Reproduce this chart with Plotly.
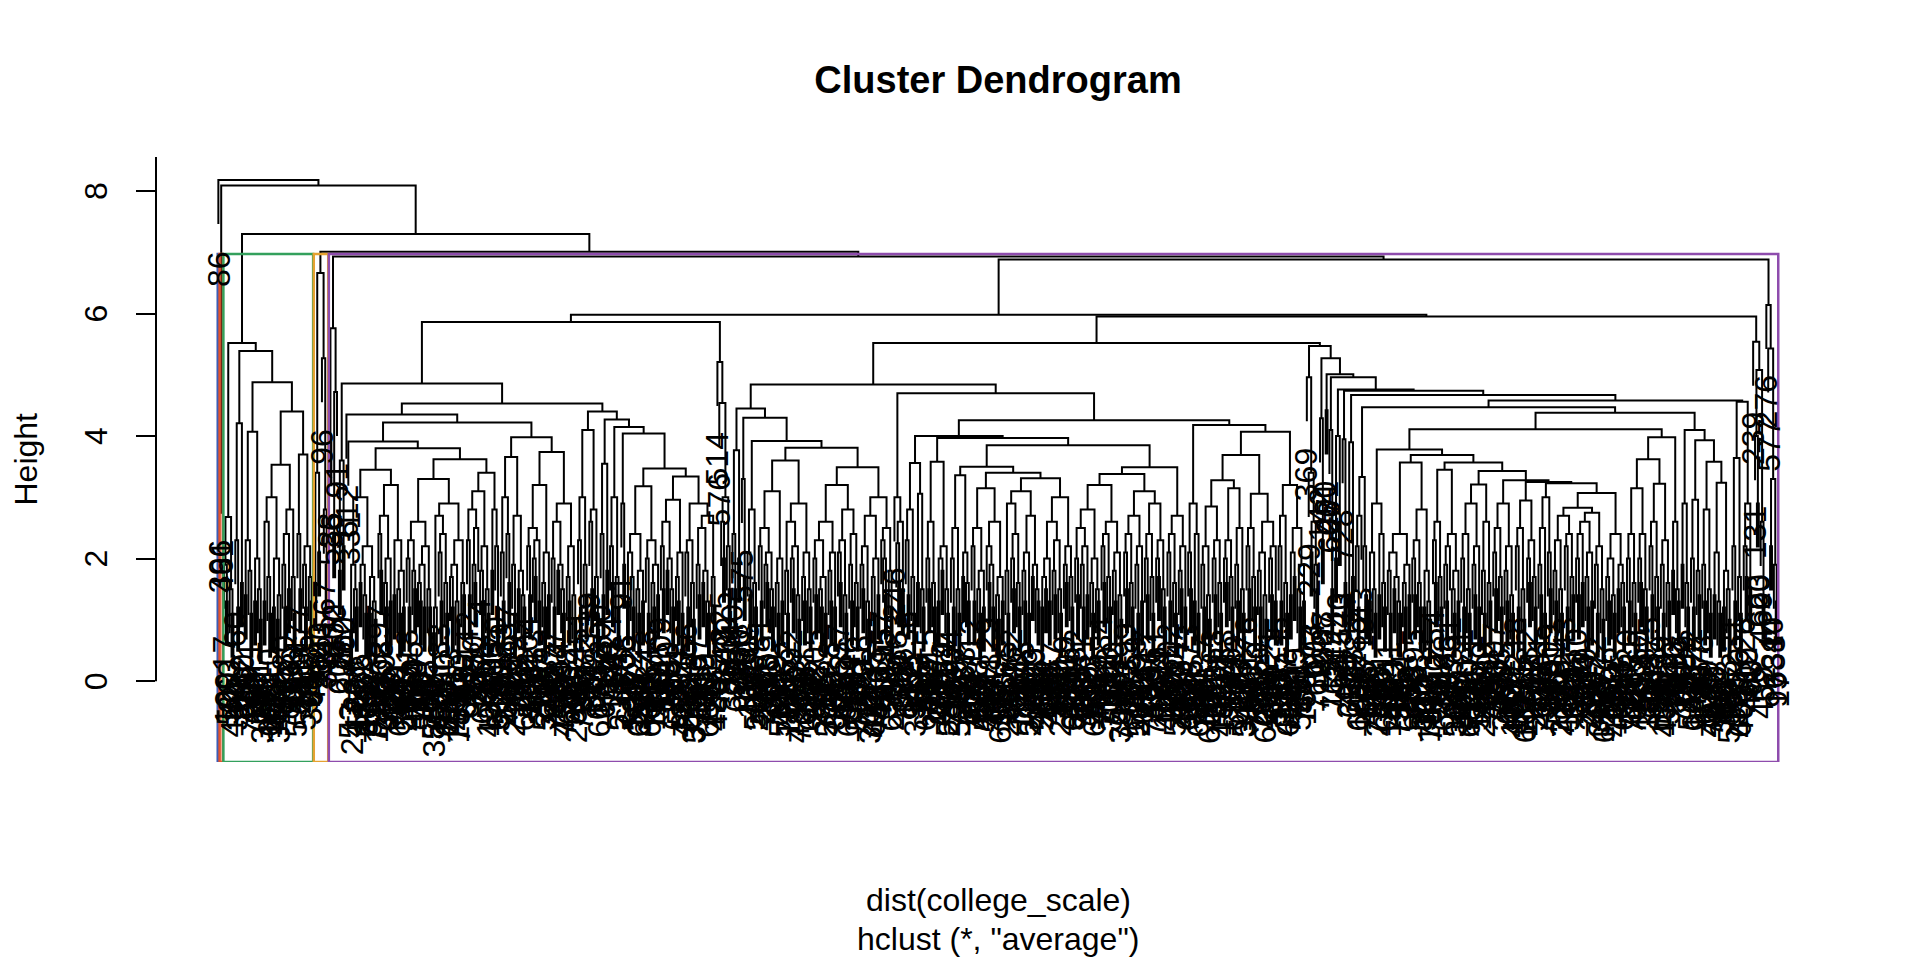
import plotly.graph_objects as go

# --- tree, as nested "(left,right)height" strings ---
L1 = "86"
RED = "(396,461)3.45"
G_L = "((17,(109,520)1.3)1.9,(263,(441,52)1.1)1.5)2.68"
G_RL = "((60,(327,94)1.2)2.3,(62,140)1.6)4.21"
G_RRL = "(((216,19)1.4,(371,(90,723)1.1)1.8)2.3,((198,660)1.3,(401,(5,377)1.0)1.5)2.0)4.07"
G_A = "((((245,171)1.3,(10,(682,150)1.1)1.7)2.6,((158,431)1.2,((66,317)1.0,705)1.4)2.0)3.0,(((280,(59,713)1.2)1.9,(463,126)1.5)2.4,(336,(70,598)1.1)1.7)2.8)3.53"
G_B = "((477,(213,701)1.5)2.4,((106,(547,33)1.2)1.9,(218,(394,65)1.3)1.7)2.2)3.7"
GREEN = f"({G_L},({G_RL},({G_RRL},({G_A},{G_B})4.40)4.88)5.39)5.52"
ORANGE = "(((415,28)1.6,(183,640)2.1)3.4,(96,(567,(331,712)1.9)2.8)5.27)6.66"
P_LEFT = "((588,36)3.9,((202,670)2.4,91)4.72)5.76"
F1_LEFT = "((607,275)1.8,(652,700)2.2)3.6"

N365A = ("((((53,247)0.8,(638,(126,579)1.2)1.5)1.9,(((556,33)1.6,(219,(670,301)1.1)1.4)1.9,((412,559)1.1,(84,(728,195)1.0)1.3)1.7)2.2)3.0,"
         "(((297,(653,208)1.8)2.4,((139,(455,692)1.2)1.6,(23,487)1.3)2.0)2.7,((719,380)1.4,((261,(610,42)1.1)1.5,(349,580)1.2)1.8)2.3)3.2)3.45")
X1 = "(((318,(72,491)1.2)2.0,(705,(264,149)1.5)1.8)2.3,(((407,(196,743)1.3)1.6,(29,558)1.2)1.9,(365,(701,8)1.2)1.5)2.2)2.6"
X2 = "((((55,388)0.78,616)1.2,((183,(529,47)1.3)2.1,(250,(674,137)1.1)1.6)2.4)2.7,(((13,(447,262)1.2)1.7,(590,(185,734)1.0)1.3)1.9,(320,(48,655)1.4)1.6)2.3)2.9"
Y1 = "(((442,(661,97)1.4)2.3,((350,(738,227)1.6)1.9,4)2.5)2.8,((268,(602,39)1.3)1.8,(711,(158,434)1.1)1.5)2.2)3.1"
Y2 = "((286,503)1.8,(170,(615,366)1.2)2.2)2.8"
N365B = f"(({X1},{X2})3.3,({Y1},{Y2})3.4)3.62"
N530L = "(((123,(584,240)1.3)2.1,(637,(76,402)1.6)2.4)3.0,((519,(290,8)1.1)1.9,((748,355)1.5,(166,(621,18)1.2)1.4)1.8)2.7)3.66"
N530R = ("((((204,(569,118)1.4)2.2,((433,(61,695)1.7)2.0,(292,704)1.3)2.3)2.5,((87,(523,311)1.2)1.6,(640,213)1.4)2.1)3.2,"
         "(((277,(741,39)1.2)2.0,((384,517)1.8,(99,(456,731)1.1)1.5)1.9)2.6,((168,(602,44)1.3)1.7,(705,(32,269)1.0)1.4)2.2)2.9)3.74")
F1_RIGHT_L = f"(612,((331,({N365A},{N365B})3.80)3.91,({N530L},{N530R})3.98)4.22)4.35"

RR_A = "(((451,(26,734)1.2)2.3,(662,(304,57)1.4)1.9)3.0,((139,(522,301)1.5)2.6,(488,(67,617)1.1)1.7)2.8)4.10"
RR_S1 = "((300,(5,620)1.4)2.4,(174,398)1.8)3.55"
RR_S2 = "((424,(189,764)1.6)2.2,(71,(515,236)1.2)1.7)3.0"
RR_S3 = "(91,(358,606)1.9)2.9"
RR_E1 = "((((697,12)1.3,(472,(593,180)1.2)1.7)2.1,((82,(650,359)1.1)1.5,(221,704)1.3)1.8)2.4,((348,(31,666)1.1)2.0,((537,(102,749)1.2)1.6,(19,411)1.4)1.9)2.3)3.18"
RR_E2 = ("((((209,(544,110)1.5)2.2,((730,83)1.8,(395,(27,656)1.2)1.5)2.0)2.6,((174,(599,38)1.3)1.7,(462,722)1.1)2.1)2.96,"
         "(((466,(263,690)1.2)2.1,(88,(314,575)1.0)1.6)2.3,(((37,(601,145)1.4)1.9,((512,299)1.6,(240,(666,9)1.1)1.3)1.8)2.5,(701,(126,483)1.2)1.7)2.7)2.9)3.34")
F1_RIGHT_R = f"({RR_A},({RR_S1},({RR_S2},({RR_S3},({RR_E1},{RR_E2})3.47)4.04)4.15)4.27)4.40"
F2 = "(514,(576,((325,(147,609)2.0)2.6,(730,(58,382)1.5)2.2)3.0)4.54)5.21"
F = f"(({F1_LEFT},({F1_RIGHT_L},{F1_RIGHT_R})4.53)4.86,{F2})5.86"

HLL_L = "((440,(95,672)1.5)2.4,(260,38)2.0)3.77"
HLL_S1 = "(575,(328,116)1.7)3.3"
HLL_S2 = "((708,(160,453)1.4)2.1,(35,(584,207)1.2)1.6)2.8"
HLL_R4 = ("((((81,(546,238)1.3)2.2,((655,(18,470)1.6)1.9,(206,(737,92)1.2)1.5)2.1)2.5,((319,(65,583)1.1)1.6,(443,710)1.3)2.0)3.1,"
          "(((362,(702,124)1.1)1.8,((592,(27,333)1.5)2.0,(150,(488,726)1.0)1.4)2.2)2.6,((61,(379,694)1.3)1.7,(225,(603,14)1.2)1.5)2.1)2.9)3.6")
R5A = "(((205,(658,92)1.4)2.0,((407,(1,722)1.2)1.5,(284,597)1.1)1.7)2.3,((128,(740,52)1.3)1.8,(366,681)1.2)2.1)2.6"
R5B = "(((537,(102,268)1.6)2.1,(431,(90,615)1.1)1.4)2.3,((46,(689,14)1.3)1.9,(251,(566,777)1.2)1.6)2.4)2.8"
R5C = "(((316,(573,79)1.5)1.9,(22,(705,342)1.0)1.3)2.2,((233,(626,443)1.1)1.7,(510,163)1.4)2.0)2.7"
R5D = "((157,(495,(62,340)1.4)2.0)2.3,(84,(659,271)1.2)1.8)2.5"
HLL_R5 = f"(({R5A},{R5B})3.2,({R5C},{R5D})3.0)3.49"
HLL = f"({HLL_L},({HLL_S1},({HLL_S2},({HLL_R4},{HLL_R5})3.81)3.92)4.30)4.45"

HLR_L = "(246,((683,(119,504)1.6)2.25,(72,398)1.5)2.6)3.0"
M893 = "(((36,(519,187)1.4)2.3,(722,(94,350)1.1)1.7)2.8,((603,93)1.6,(266,(51,640)1.2)1.5)3.06)3.56"
M924 = "(((215,(650,67)1.5)2.0,(427,(111,735)1.2)1.6)2.6,(((498,308)1.3,(729,154)1.8)2.0,(39,(582,246)1.1)1.5)2.2)3.58"
M940 = "(((404,(16,711)1.2)2.0,(279,(528,85)1.1)1.5)2.5,((587,153)1.7,(47,(666,302)1.3)1.6)2.1)3.36"
M967 = "(((112,(634,393)1.3)2.2,((198,(760,55)1.1)1.5,(413,589)1.2)1.8)2.5,((29,((571,248)1.6,(444,85)1.2)1.9)2.2,((307,(17,692)1.0)1.4,(530,136)1.3)1.7)2.6)3.15"
P1 = "((675,(201,88)1.1)1.8,((462,(7,618)1.5)2.0,(313,(758,124)1.2)1.6)2.4)2.9"
P2 = "(((345,(727,58)1.3)1.8,(592,214)1.1)2.1,((193,539)1.7,(66,(475,701)1.3)1.5)1.9)2.7"
P3 = "((((282,506)1.2,(664,141)1.5)1.7,(35,433)1.3)2.0,((77,(545,362)1.4)1.8,(620,(247,14)1.1)1.5)2.3)2.6"
P4 = "((419,(230,651)1.6)1.9,(108,(693,382)1.2)1.7)2.2"
M1031 = f"(({P1},{P2})3.1,({P3},{P4})3.0)3.31"
QA = ("((((132,(598,278)1.4)2.0,((41,(706,365)1.2)1.9,(258,519)1.4)2.2)2.5,((373,(90,641)1.1)1.6,(12,(455,727)1.3)1.5)2.0)2.8,"
      "(((484,(11,652)1.6)2.2,(193,(700,317)1.2)1.7)2.4,((220,(566,98)1.3)1.8,(61,(388,744)1.0)1.4)2.1)2.6)3.2")
QB = ("((((399,(743,172)1.5)2.1,(475,(28,606)1.2)1.6)2.4,((59,(530,283)1.1)1.9,(190,672)1.3)2.2)2.7,"
      "(((617,(104,458)1.4)2.0,(336,(765,49)1.1)1.7)2.4,((251,(21,684)1.7)2.0,(547,(118,409)1.2)1.5)2.3)2.9)3.1")
M1153B = "(((602,(129,349)1.3)2.1,(270,(586,40)1.1)1.6)2.4,((74,(756,289)1.5)1.8,(432,663)1.2)2.2)2.7"
M1178 = "((73,(518,226)1.5)2.1,((392,167)1.3,(654,82)1.1)2.4)2.9"
M1212 = ("((((437,(190,759)1.2)1.9,(294,(606,23)1.0)1.4)2.2,((63,(552,305)1.4)2.0,(718,(142,480)1.1)1.6)2.3)2.85,"
         "(((258,(627,44)1.6)2.0,(376,(57,690)1.2)1.7)2.3,((482,(15,698)1.3)1.9,(205,(541,316)1.1)1.5)2.5)3.15)3.28")
M1265 = "(((176,(611,367)1.5)2.2,(463,(89,724)1.2)1.7)2.5,(((50,(733,274)1.2)1.8,(331,(603,20)1.0)1.4)2.1,((521,(94,640)1.4)2.0,(148,589)1.3)2.2)2.6)3.06"
M1284 = "(((535,(336,747)1.3)2.2,(77,(412,690)1.1)1.6)2.7,(((128,694)1.4,(9,415)1.7)2.1,((261,(585,33)1.2)1.5,(704,156)1.3)1.9)2.5)3.2"
HLR_R = (f"(({M893},({M924},(({M940},({M967},{M1031})3.4)3.5,(({QA},{QB})3.38,{M1153B})3.49)3.85)3.97)4.0,"
         f"({M1178},(({M1212},{M1265})3.69,{M1284})4.07)4.18)4.26")
HL = f"({HLL},({HLR_L},{HLR_R})4.70)4.84"

HR_L = "(369,(229,((173,604)2.1,(395,(60,712)1.5)1.9)2.6)3.4)4.96"
S1 = "(142,(688,207)2.3)4.29"
S2 = "(490,271)4.42"
S3 = "(606,(115,762)1.5)4.1"
S4 = "((344,212)2.0,(40,523)2.6)4.0"
S5 = "(728,(99,481)1.6)3.95"
S6 = "((396,632)1.4,(13,557)1.7)3.9"
S7 = "(((285,(649,155)1.2)2.2,43)2.7,(710,(182,526)1.4)2.2)3.33"
R12A = "(((448,117)1.3,(32,(757,236)1.1)1.5)2.1,((680,46)1.4,(391,(73,612)1.2)1.6)2.4)2.9"
R12C = ("((((541,(186,48)1.1)1.8,((623,272)1.5,(311,(715,83)1.1)1.3)1.7)2.1,((464,(27,659)1.2)1.6,(209,738)1.4)1.9)2.4,"
        "(((395,(6,676)1.4)2.0,(58,(546,302)1.2)1.6)2.3,((137,560)1.2,(422,(189,751)1.0)1.3)1.8)2.8)3.57")
R12E = "(((254,(640,92)1.6)2.3,(517,(30,684)1.2)1.7)2.6,(((468,(20,709)1.3)1.9,751)2.2,((173,(598,362)1.1)1.5,(43,427)1.3)1.8)2.4)3.45"
R12G = "((((181,(578,403)1.2)2.0,(290,(654,37)1.1)1.5)2.4,((71,(726,341)1.4)1.9,(512,199)1.2)2.2)2.9,((499,(224,45)1.1)1.8,(370,(84,715)1.3)1.6)2.6)3.21"
H1 = "(((307,(591,133)1.5)2.1,(618,(47,295)1.2)1.7)2.5,((25,(688,457)1.3)1.8,(739,(160,402)1.1)1.4)2.2)2.9"
H2 = "(((218,(547,89)1.2)2.2,(375,(112,663)1.0)1.5)2.5,((432,(12,697)1.6)2.0,(81,(524,259)1.2)1.7)2.3)2.95"
H3 = "(((161,(635,376)1.4)1.9,(54,714)1.1)2.5,(509,(100,643)1.5)2.1)3.0"
H4 = "(((291,(35,580)1.3)1.8,(476,(218,700)1.1)1.5)2.3,((243,(165,592)1.2)2.2,(15,(644,363)1.4)1.7)2.4)2.7"
H5 = "((((410,(57,686)1.4)2.0,(136,574)1.6)2.4,((519,(83,210)1.2)1.7,(738,306)1.3)2.1)2.6,((22,(767,302)1.1)1.9,(447,(172,625)1.0)1.5)2.2)2.75"
H6 = "(((356,(717,151)1.3)1.7,(560,(29,418)1.1)1.4)2.0,((64,483)1.5,(245,(691,13)1.2)1.6)1.9)2.4"
R12H = f"({H1},({H2},({H3},(({H4},{H5})2.83,{H6})3.07)3.23)3.25)3.28"
R13C = "(((420,(197,626)1.3)2.0,(285,(711,67)1.1)1.6)2.4,((60,(752,314)1.6)2.0,(533,(140,396)1.2)1.5)2.4)3.15"
R13D = "(((375,(601,24)1.4)2.2,(478,(90,655)1.2)1.7)2.6,((699,(131,454)1.1)1.9,(213,(569,38)1.3)1.6)2.3)3.22"
R13B = "((146,612)1.8,(368,(77,704)1.3)1.5)2.6"
R11S = "((427,199)1.9,(655,(31,542)1.2)1.6)2.9"
R14A = "((322,(608,144)1.2)2.0,(517,(90,733)1.4)1.8)2.96"
R14C = "((378,(621,135)1.3)1.9,(29,(456,702)1.1)1.5)2.8"
R14D = "(((473,210)1.4,(612,(47,390)1.1)1.3)2.1,((66,724)1.2,(288,(590,18)1.0)1.5)1.8)3.24"
R8A = "((231,(585,121)1.3)2.2,(70,(637,405)1.1)1.7)3.64"
R8B = "((26,(702,310)1.7)2.2,(480,93)1.5)2.9"
R12 = f"({R12A},({R12C},({R12E},({R12G},{R12H})3.43)3.57)3.69)3.78"
R13 = f"(({R13C},{R13D})3.62,{R13B})3.98"
R14 = f"({R14A},({R14C},{R14D})3.58)3.93"
R9 = f"(({R12},{R13})4.11,({R11S},{R14})4.10)4.38"
HR_R = f"({S1},({S2},({S3},({S4},({S5},({S6},(({S7},{R9})4.47,({R8A},{R8B})4.56)4.58)4.67)4.74)4.76)4.96)5.01)5.27"
HR = f"({HR_L},{HR_R})5.47"

G_RIGHT = "(239,((131,(663,20)2.9)4.0,(460,(409,52)1.4)2.6)5.08)5.54"
Q_RIGHT = "(276,(577,((44,310)2.2,(688,(95,17)1.3)1.9)3.3)5.43)6.14"
G = f"(({HL},{HR})5.52,{G_RIGHT})5.95"
E = f"({F},{G})5.98"
TREE = f"({L1},({RED},({GREEN},({ORANGE},({P_LEFT},({E},{Q_RIGHT})6.88)6.93)7.01)7.30)8.09)8.18"

HANG = 0.72
LABEL_GAP = 0.40
K_CLUSTERS = 5
RECT_COLORS = ["#3d5cb4", "#e4532a", "#33a05c", "#e6a231", "#8e4cad"]
Y_TICKS = [0, 2, 4, 6, 8]
Y_RANGE = [-1.32, 8.555]
FONT = "Liberation Sans, Arial, sans-serif"


def parse(s, i=0):
    if s[i] == "(":
        left, i = parse(s, i + 1)
        right, i = parse(s, i + 1)   # skip ','
        j = i + 1                    # skip ')'
        while j < len(s) and s[j] not in ",)":
            j += 1
        return {"h": float(s[i + 1:j]), "kids": [left, right]}, j
    j = i
    while j < len(s) and s[j] not in ",)":
        j += 1
    return {"label": s[i:j]}, j


tree, end = parse(TREE)
assert end == len(TREE)

leaves = []
internal = []


def place(node):
    if "kids" not in node:
        leaves.append(node)
        node["x"] = float(len(leaves))
        node["lo"] = node["hi"] = len(leaves)
        return
    internal.append(node)
    for k in node["kids"]:
        place(k)
    a, b = node["kids"]
    node["x"] = (a["x"] + b["x"]) / 2
    node["lo"], node["hi"] = a["lo"], b["hi"]


place(tree)
n = len(leaves)

xs, ys = [], []


def draw(node):
    h = node["h"]
    a, b = node["kids"]
    for k in (a, b):
        if "kids" not in k:
            k["y"] = h - HANG
    ya = a.get("h", h - HANG)
    yb = b.get("h", h - HANG)
    xs.extend([a["x"], a["x"], b["x"], b["x"], None])
    ys.extend([ya, h, h, yb, None])
    for k in (a, b):
        if "kids" in k:
            draw(k)


draw(tree)

# rect.hclust(k = 5)
by_h = sorted(internal, key=lambda d: d["h"], reverse=True)
cut_ids = {id(d) for d in by_h[:K_CLUSTERS - 1]}
cut_h = (by_h[K_CLUSTERS - 2]["h"] + by_h[K_CLUSTERS - 1]["h"]) / 2
clusters = []


def split(node):
    if id(node) in cut_ids:
        for k in node["kids"]:
            split(k)
    else:
        clusters.append((node["lo"], node["hi"]))


split(tree)

fig = go.Figure()
fig.add_trace(go.Scatter(x=xs, y=ys, mode="lines", line=dict(color="black", width=2),
                         hoverinfo="skip", showlegend=False))

shapes = [dict(type="line", xref="paper", yref="y", x0=0, x1=0, y0=0, y1=Y_RANGE[1],
               line=dict(color="black", width=2))]
for (lo, hi), col in zip(clusters, RECT_COLORS):
    shapes.append(dict(type="rect", xref="x", yref="y", x0=lo - 0.34, x1=hi + 0.33,
                       y0=Y_RANGE[0], y1=cut_h, line=dict(color=col, width=2.5)))

annotations = []
for lf in leaves:
    annotations.append(dict(x=lf["x"], y=lf["y"] - LABEL_GAP, xref="x", yref="y",
                            text=lf["label"], textangle=-90, showarrow=False,
                            xanchor="center", yanchor="top",
                            font=dict(size=32, color="black", family=FONT)))
for t in Y_TICKS:
    annotations.append(dict(x=0, xref="paper", xshift=-60, y=t, yref="y", text=str(t),
                            textangle=-90, showarrow=False, xanchor="center", yanchor="middle",
                            font=dict(size=32, color="black", family=FONT)))
annotations += [
    dict(x=0, xref="paper", xshift=-131, y=0.5, yref="paper", text="Height", textangle=-90,
         showarrow=False, xanchor="center", yanchor="middle", font=dict(size=32, color="black", family=FONT)),
    dict(x=0.5, xref="paper", y=0, yref="paper", yshift=-138, text="dist(college_scale)",
         showarrow=False, xanchor="center", yanchor="middle", font=dict(size=32, color="black", family=FONT)),
    dict(x=0.5, xref="paper", y=0, yref="paper", yshift=-177, text='hclust (*, "average")',
         showarrow=False, xanchor="center", yanchor="middle", font=dict(size=32, color="black", family=FONT)),
]

pad = 0.04 * (n - 1)
fig.update_layout(
    width=1920, height=960, autosize=False,
    margin=dict(l=156, r=80, t=157, b=198),
    paper_bgcolor="white", plot_bgcolor="white",
    title=dict(text="<b>Cluster Dendrogram</b>", x=0.5, xref="paper", xanchor="center",
               y=1 - 80 / 960, yref="container", yanchor="middle",
               font=dict(size=38, color="black", family=FONT)),
    xaxis=dict(range=[1 - pad, n + pad], visible=False, fixedrange=True),
    yaxis=dict(range=Y_RANGE, tickvals=Y_TICKS, ticks="outside", ticklen=19, tickwidth=2,
               tickcolor="black", showticklabels=False, showgrid=False, zeroline=False,
               showline=False, fixedrange=True),
    shapes=shapes, annotations=annotations, hovermode=False,
)

fig.write_html("out.html", config={"displayModeBar": False},
               post_script="document.body.style.margin='0';document.body.style.overflow='hidden';")
